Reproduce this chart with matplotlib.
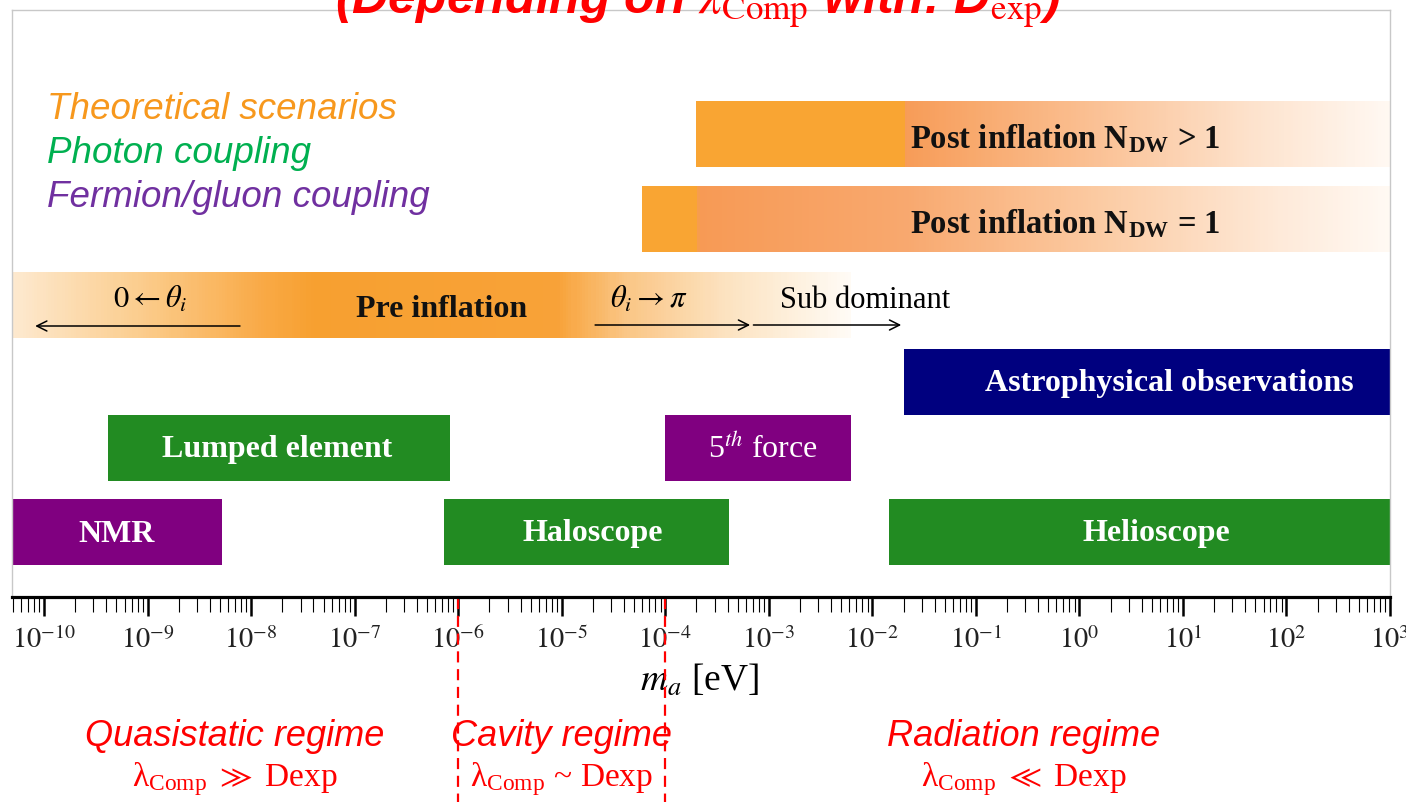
import matplotlib.pyplot as plt
import numpy as np
from matplotlib.colors import LinearSegmentedColormap
from matplotlib.ticker import LogLocator, FixedLocator, FuncFormatter, NullFormatter

plt.rcParams['mathtext.fontset'] = 'stix'

# axion mass ranges [eV]
scenario_names = ['Post inflation N$_\\mathregular{DW}$ > 1',
                  'Post inflation N$_\\mathregular{DW}$ = 1',
                  'Pre inflation']
scenario_lo = [2.0e-4, 6.0e-5, 4.9e-11]
scenario_hi = [1e3, 1e3, 6.2e-3]

coupling_names = ['Astrophysical observations', 'Lumped element', '5$^{th}$ force',
                  'NMR', 'Haloscope', 'Helioscope']
coupling_lo = [2.0e-2, 4.1e-10, 1.0e-4, 4.9e-11, 7.3e-7, 1.45e-2]
coupling_hi = [1e3, 8.3e-7, 6.2e-3, 5.2e-9, 4.1e-4, 1e3]
coupling_kind = ['astro', 'photon', 'fermion', 'fermion', 'photon', 'photon']

decades = list(range(-10, 4))

regime_edges = [1e-6, 1e-4]
regime_names = ['Quasistatic regime', 'Cavity regime', 'Radiation regime']
regime_rel = ['λ$_\\mathregular{Comp}$ $\\gg$ Dexp', 'λ$_\\mathregular{Comp}$ ~ Dexp',
              'λ$_\\mathregular{Comp}$ $\\ll$ Dexp']

# layout (y in pixels from the top of the picture)
scenario_y = [134, 219, 304.5]
coupling_y = [382, 448, 448, 532, 532, 532]
bar_h = 66
scenario_text_x = [2.3e-2, 2.3e-2, 6.9e-7]
coupling_text_x = [7.4, 1.8e-8, 8.7e-4, 5e-10, 2e-5, 5.6]
regime_text_x = [7e-9, 1e-5, 0.29]

kind_colors = {'astro': '#00007F', 'photon': '#228B22', 'fermion': '#800080'}

gradients = [
    [(0.0, '#F9A533'), (0.30, '#F9A533'), (0.302, '#F79C58'), (0.55, '#FABD8E'),
     (0.8, '#FDE2CC'), (1.0, '#FFF8F2')],
    [(0.0, '#F9A533'), (0.073, '#F9A533'), (0.075, '#F79A55'), (0.35, '#F8A86E'),
     (0.6, '#FBC9A0'), (0.85, '#FEE9D8'), (1.0, '#FFF9F3')],
    [(0.0, '#FDE9CF'), (0.15, '#FBCD8E'), (0.30, '#F9A945'), (0.36, '#F7A030'),
     (0.65, '#F8A238'), (0.73, '#FAC584'), (0.85, '#FCE2BF'), (1.0, '#FFFBF5')],
]


def gradient_bar(ax, y, lo, hi, stops, n=300):
    cmap = LinearSegmentedColormap.from_list('g', stops)
    edges = np.logspace(np.log10(lo), np.log10(hi), n + 1)
    frac = (np.arange(n) + 0.5) / n
    ax.barh(y, edges[1:] - edges[:-1], left=edges[:-1], height=bar_h,
            color=cmap(frac), linewidth=0, antialiased=False)


fig = plt.figure(figsize=(14.06, 8.02), dpi=100)
ax = fig.add_axes([12 / 1406, 205 / 802, 1378 / 1406, 587 / 802])
ax.set_xscale('log')
ax.set_xlim(10 ** -10.31, 1e3)
ax.set_ylim(597, 10)

# theoretical scenarios
for i in range(3):
    gradient_bar(ax, scenario_y[i], scenario_lo[i], scenario_hi[i], gradients[i])
for i in range(2):
    ax.text(scenario_text_x[i], scenario_y[i] + 5, scenario_names[i], ha='left', va='center',
            fontsize=23.5, fontweight='bold', family='Liberation Serif', color='#111111')
ax.text(scenario_text_x[2], scenario_y[2] + 5, scenario_names[2], ha='center', va='center',
        fontsize=23, fontweight='bold', family='Liberation Serif', color='#111111')

# arrows in pre inflation band
arr = dict(arrowstyle='->', lw=1.1, color='black', shrinkA=0, shrinkB=0,
           mutation_scale=18)
ax.annotate('', xy=(8.2e-11, 326), xytext=(7.8e-9, 326), arrowprops=arr)
ax.annotate('', xy=(6.6e-4, 325), xytext=(2.1e-5, 325), arrowprops=arr)
ax.annotate('', xy=(1.9e-2, 325), xytext=(7.1e-4, 325), arrowprops=arr)
ax.text(1.05e-9, 299, r'$0 \leftarrow \theta_i$', ha='center', va='center', fontsize=22)
ax.text(6.9e-5, 299, r'$\theta_i \rightarrow \pi$', ha='center', va='center', fontsize=22)
ax.text(8.5e-3, 300, 'Sub dominant', ha='center', va='center', fontsize=22,
        family='Liberation Serif')

# experiments / observations
for i, name in enumerate(coupling_names):
    ax.barh(coupling_y[i], coupling_hi[i] - coupling_lo[i], left=coupling_lo[i],
            height=bar_h, color=kind_colors[coupling_kind[i]], linewidth=0)
    ax.text(coupling_text_x[i], coupling_y[i] + 2, name, ha='center', va='center',
            fontsize=23, family='Liberation Serif', color='white',
            fontweight='normal' if i == 2 else 'bold')

# axis styling
for s in ['top', 'left', 'right']:
    ax.spines[s].set_color('#C8C8C8')
    ax.spines[s].set_linewidth(1)
ax.spines['bottom'].set_linewidth(2.3)
ax.spines['bottom'].set_color('black')
ax.yaxis.set_visible(False)
ax.xaxis.set_major_locator(FixedLocator([10.0 ** d for d in decades]))
ax.xaxis.set_minor_locator(LogLocator(base=10, subs=np.arange(2, 10), numticks=300))
ax.xaxis.set_minor_formatter(NullFormatter())
ax.xaxis.set_major_formatter(FuncFormatter(lambda v, p: r'$10^{%d}$' % round(np.log10(v))))
ax.tick_params(axis='x', which='major', length=14, width=1.8, pad=7, labelsize=20.5,
               labelcolor='#222222')
ax.tick_params(axis='x', which='minor', length=10.5, width=0.8)
ax.set_xlabel(r'$m_a$ [eV]', fontsize=27, family='Liberation Serif')
ax.xaxis.set_label_coords(0.4993, -0.112)
ax.xaxis.label.set_va('top')

# regimes
ax.vlines(regime_edges, 598, 802, colors='red', linestyles=(0, (5, 3)), lw=1.6,
          clip_on=False)
for i in range(3):
    ax.text(regime_text_x[i], 746, regime_names[i], ha='center', va='baseline',
            fontsize=26, style='italic', family='Liberation Sans', color='red', clip_on=False)
    ax.text(regime_text_x[i], 787, regime_rel[i], ha='center', va='baseline',
            fontsize=24, family='Liberation Serif', color='red', clip_on=False)

# legend texts
legend = [('Theoretical scenarios', '#F7981D'), ('Photon coupling', '#00B050'),
          ('Fermion/gluon coupling', '#7030A0')]
for k, (t, c) in enumerate(legend):
    fig.text(47 / 1406, 1 - (119 + 44 * k) / 802, t, color=c, fontsize=26.5,
             style='italic', family='Liberation Sans', va='baseline')

fig.text(698 / 1406, 1 - 13 / 802,
         r'(Depending on $\lambda_{\mathrm{Comp}}$ with: D$_{\mathrm{exp}}$)',
         ha='center', va='baseline', fontsize=36, color='red', style='italic',
         fontweight='bold', family='Liberation Sans')

fig.savefig('out.png', dpi=100)
